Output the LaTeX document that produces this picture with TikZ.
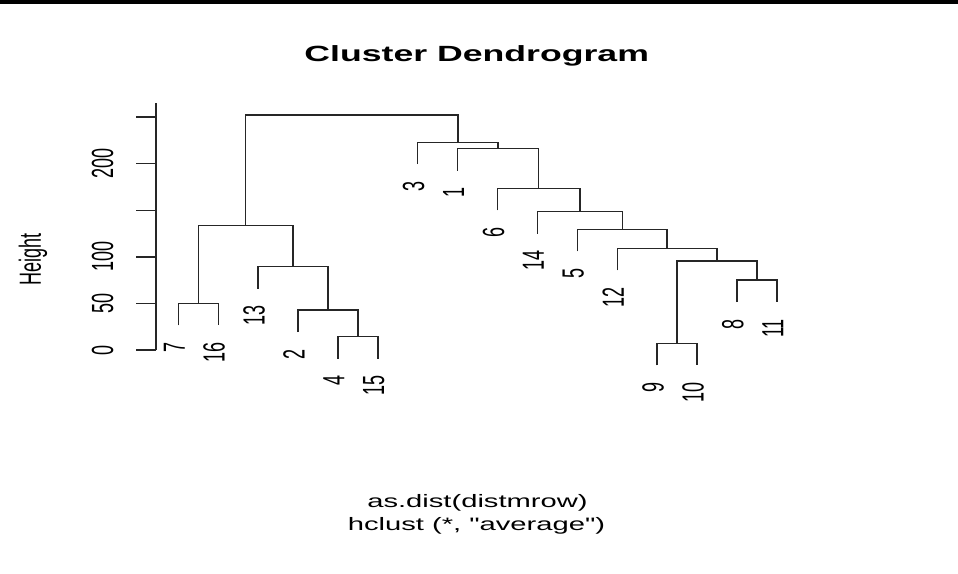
\documentclass[tikz,border=0pt]{standalone}
\usepackage{fontspec}
\usepackage{graphicx}
\setmainfont{Liberation Sans}[Ligatures=TeXOff]
\newcommand{\hstr}[1]{\scalebox{1.62}[1]{#1}}
\newcommand{\vstr}[1]{\scalebox{1.7}[1]{\rotatebox{90}{#1}}}
\begin{document}
\begin{tikzpicture}[x=1pt,y=-1pt,
  tree/.style={line width=1.4pt, draw=black!85},
  axisline/.style={line width=1.4pt, draw=black!85},
  leaflab/.style={anchor=north, inner sep=0pt, font=\fontsize{18}{18}\selectfont},
  ticklab/.style={anchor=center, inner sep=0pt, font=\fontsize{18}{18}\selectfont},
  titlelab/.style={anchor=base, inner sep=0pt, font=\fontsize{22}{22}\selectfont\bfseries},
  sublab/.style={anchor=base, inner sep=0pt, font=\fontsize{18}{18}\selectfont}]
\useasboundingbox (0,0) rectangle (958,573);
\fill[white] (0,0) rectangle (958,573);
% top border
\draw[line width=3.2pt, black] (0,2) -- (958,2);

% title and subtitle
\node[titlelab] (title) at (476.7,61.7) {\hstr{Cluster Dendrogram}};
\node[sublab] (sub1) at (477.5,507.5) {\hstr{as.dist(distmrow)}};
\node[sublab] (sub2) at (476.5,530) {\hstr{hclust (*, "average")}};
\node[ticklab] (ylab) at (33,259) {\vstr{Height}};

% axis
\coordinate (axtop) at (156,103);
\coordinate (axbot) at (156,350);
\draw[axisline] (axtop) -- (axbot);
\foreach \v/\y in {0/350,50/303.4,100/256.8,150/210.2,200/163.6,250/117}{
  \coordinate (tk\v) at (156,\y);
  \draw[axisline] (tk\v) -- ++(-20,0);
}
\foreach \v in {0,50,100,200}{
  \node[ticklab] (tl\v) at ([xshift=-53.5pt]tk\v) {\vstr{\v}};
}

% leaves
\coordinate (l7) at (178.3,325.3);
\coordinate (l16) at (218.2,325.3);
\coordinate (l13) at (258.1,288.7);
\coordinate (l2) at (298.0,332);
\coordinate (l4) at (337.9,358.7);
\coordinate (l15) at (377.8,358.7);
\coordinate (l3) at (417.7,164.2);
\coordinate (l1) at (457.6,170.5);
\coordinate (l6) at (497.5,210.3);
\coordinate (l14) at (537.4,233.7);
\coordinate (l5) at (577.3,251.3);
\coordinate (l12) at (617.2,270.3);
\coordinate (l9) at (657.1,365.3);
\coordinate (l10) at (697.0,365.3);
\coordinate (l8) at (736.9,302);
\coordinate (l11) at (776.8,302);

% merges
\coordinate (mA) at (357.85,336.7);
\coordinate (mB) at (327.9,310);
\coordinate (mC) at (293,266.7);
\coordinate (mD) at (198.25,303.3);
\coordinate (mE) at (245.6,225.7);
\coordinate (mF) at (677.05,343.3);
\coordinate (mG) at (756.85,280);
\coordinate (mH) at (716.95,261);
\coordinate (mI) at (667.1,248.3);
\coordinate (mJ) at (622.2,229.3);
\coordinate (mK) at (579.8,211.7);
\coordinate (mL) at (538.65,188.3);
\coordinate (mM) at (498.1,148.5);
\coordinate (mN) at (457.9,142.2);
\coordinate (mT) at (351.75,115);

\draw[tree] (l4) |- (mA) -| (l15);
\draw[tree] (l2) |- (mB) -| (mA);
\draw[tree] (l13) |- (mC) -| (mB);
\draw[tree] (l7) |- (mD) -| (l16);
\draw[tree] (mD) |- (mE) -| (mC);
\draw[tree] (l9) |- (mF) -| (l10);
\draw[tree] (l8) |- (mG) -| (l11);
\draw[tree] (mF) |- (mH) -| (mG);
\draw[tree] (l12) |- (mI) -| (mH);
\draw[tree] (l5) |- (mJ) -| (mI);
\draw[tree] (l14) |- (mK) -| (mJ);
\draw[tree] (l6) |- (mL) -| (mK);
\draw[tree] (l1) |- (mM) -| (mL);
\draw[tree] (l3) |- (mN) -| (mM);
\draw[tree] (mE) |- (mT) -| (mN);

% leaf labels
\foreach \n in {7,16,13,2,4,15,3,1,6,14,5,12,9,10,8,11}{
  \node[leaflab] (lab\n) at ([shift={(-4,17)}]l\n) {\vstr{\n}};
}
\end{tikzpicture}
\end{document}
